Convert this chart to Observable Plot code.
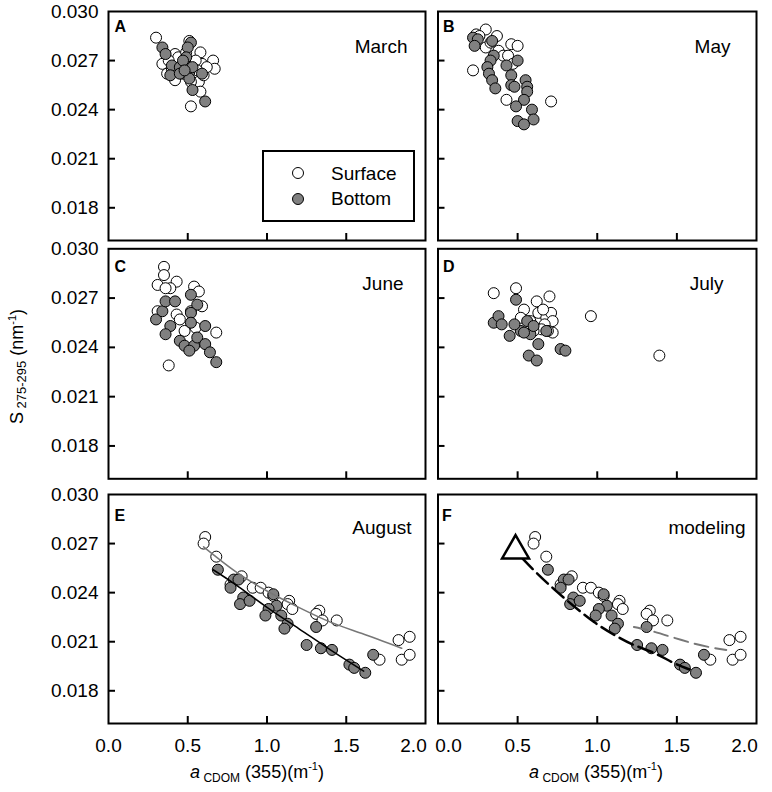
<!DOCTYPE html>
<html><head><meta charset="utf-8">
<script src="https://cdn.jsdelivr.net/npm/d3@7"></script>
<script src="https://cdn.jsdelivr.net/npm/@observablehq/plot@0.6"></script>
<style>
body{margin:0;background:#fff;}
#chart{position:relative;width:772px;height:792px;font-family:"Liberation Sans",Arial,sans-serif;}
.panel{position:absolute;}
#overlay{position:absolute;left:0;top:0;pointer-events:none;}
</style></head><body><div id="chart"></div>
<script>
// ---------- tick values ----------
const xTicks = [0.5, 1.0, 1.5];
const xTickLabels = [0, 0.5, 1.0, 1.5, 2.0];
const yTicks = [0.018, 0.021, 0.024, 0.027];
const yTickLabels = [0.018, 0.021, 0.024, 0.027, 0.030];
const panelLetters = ["A", "B", "C", "D", "E", "F"];
const panelNames = ["March", "May", "June", "July", "August", "modeling"];
const legendLabels = ["Surface", "Bottom"];

// ---------- data: [aCDOM(355), S275-295] ----------
const marchSurface = [[0.30,0.0284],[0.42,0.0274],[0.58,0.0275],[0.66,0.0270],[0.67,0.0265],[0.34,0.0268],[0.59,0.0268],[0.37,0.0262],[0.42,0.0258],[0.57,0.0257],[0.58,0.0251],[0.52,0.0242],[0.51,0.0282],[0.60,0.0261],[0.44,0.0272],[0.55,0.0270],[0.47,0.0262],[0.52,0.0257],[0.38,0.0270],[0.62,0.0266],[0.49,0.0275],[0.40,0.0264],[0.56,0.0264]];
const marchBottom = [[0.34,0.0278],[0.36,0.0274],[0.52,0.0281],[0.50,0.0278],[0.49,0.0272],[0.40,0.0267],[0.45,0.0266],[0.39,0.0261],[0.45,0.0262],[0.51,0.0263],[0.53,0.0266],[0.59,0.0262],[0.51,0.0259],[0.53,0.0252],[0.61,0.0245],[0.47,0.0270],[0.48,0.0264]];

const maySurface = [[0.30,0.0289],[0.24,0.0286],[0.37,0.0285],[0.46,0.0280],[0.50,0.0279],[0.30,0.0278],[0.38,0.0276],[0.22,0.0264],[0.43,0.0246],[0.71,0.0245],[0.41,0.0273],[0.44,0.0273],[0.26,0.0285],[0.33,0.0281],[0.47,0.0268]];
const mayBottom = [[0.22,0.0284],[0.25,0.0283],[0.23,0.0279],[0.34,0.0282],[0.35,0.0273],[0.33,0.0270],[0.31,0.0266],[0.32,0.0262],[0.34,0.0258],[0.36,0.0253],[0.43,0.0267],[0.50,0.0270],[0.46,0.0261],[0.46,0.0255],[0.48,0.0254],[0.55,0.0258],[0.56,0.0254],[0.56,0.0251],[0.54,0.0246],[0.49,0.0242],[0.59,0.0240],[0.60,0.0234],[0.50,0.0233],[0.54,0.0231]];

const juneSurface = [[0.35,0.0289],[0.35,0.0284],[0.31,0.0278],[0.43,0.0280],[0.39,0.0276],[0.36,0.0276],[0.54,0.0277],[0.57,0.0274],[0.59,0.0265],[0.43,0.0260],[0.31,0.0262],[0.45,0.0257],[0.68,0.0249],[0.38,0.0229],[0.48,0.0250],[0.55,0.0252],[0.52,0.0262]];
const juneBottom = [[0.30,0.0257],[0.34,0.0262],[0.36,0.0268],[0.42,0.0268],[0.39,0.0253],[0.36,0.0248],[0.52,0.0272],[0.56,0.0266],[0.52,0.0261],[0.52,0.0255],[0.61,0.0253],[0.45,0.0244],[0.48,0.0241],[0.54,0.0241],[0.56,0.0246],[0.51,0.0238],[0.61,0.0242],[0.64,0.0237],[0.68,0.0231]];

const julySurface = [[0.35,0.0273],[0.49,0.0276],[0.62,0.0268],[0.70,0.0271],[0.54,0.0263],[0.96,0.0259],[1.39,0.0235],[0.63,0.0261],[0.68,0.0258],[0.71,0.0261],[0.72,0.0256],[0.67,0.0254],[0.65,0.0251],[0.72,0.0249],[0.60,0.0250],[0.52,0.0258],[0.58,0.0256],[0.66,0.0263],[0.69,0.0250]];
const julyBottom = [[0.35,0.0255],[0.38,0.0259],[0.40,0.0254],[0.49,0.0269],[0.45,0.0247],[0.52,0.0250],[0.56,0.0256],[0.58,0.0248],[0.63,0.0242],[0.68,0.0250],[0.57,0.0235],[0.62,0.0232],[0.77,0.0239],[0.80,0.0238],[0.48,0.0254],[0.54,0.0249],[0.60,0.0253]];

const augustSurface = [[0.61,0.0274],[0.60,0.0270],[0.68,0.0262],[0.84,0.0250],[0.77,0.0245],[0.91,0.0243],[0.96,0.0243],[1.01,0.0240],[1.04,0.0238],[1.14,0.0235],[1.13,0.0233],[1.16,0.0230],[1.33,0.0229],[1.31,0.0227],[1.35,0.0223],[1.44,0.0223],[1.83,0.0211],[1.90,0.0213],[1.85,0.0199],[1.90,0.0202],[1.71,0.0199]];
const augustBottom = [[0.69,0.0254],[0.79,0.0248],[0.82,0.0248],[0.77,0.0243],[0.85,0.0237],[0.83,0.0233],[0.89,0.0235],[1.04,0.0239],[1.06,0.0232],[1.01,0.0230],[0.99,0.0226],[1.09,0.0226],[1.13,0.0221],[1.11,0.0218],[1.31,0.0219],[1.25,0.0208],[1.34,0.0206],[1.41,0.0205],[1.67,0.0202],[1.52,0.0196],[1.55,0.0194],[1.62,0.0191]];

// fitted curves (panel E)
const augustSurfaceFit = [[0.60,0.0268],[0.80,0.0253],[1.00,0.0241],[1.20,0.0231],[1.40,0.0222],[1.60,0.0215],[1.85,0.0206]];
const augustBottomFit = [[0.66,0.0254],[0.80,0.0245],[1.00,0.0231],[1.20,0.0218],[1.40,0.0205],[1.61,0.0192]];

// modeled curves (panel F)
const modelBottom = [[0.53,0.0261],[0.62,0.0252],[0.73,0.0242],[0.85,0.0232],[0.98,0.0222],[1.11,0.0214],[1.23,0.0208],[1.36,0.0203],[1.48,0.0197],[1.58,0.0193]];
const modelSurface = [[1.23,0.0219],[1.36,0.0216],[1.53,0.0211],[1.69,0.0207],[1.81,0.0205]];
const modelStart = [[0.487,0.02657]];

const GRAY = "#808080";
const FONT = '"Liberation Sans", Arial, sans-serif';
const chart = document.getElementById("chart");

const rows = [
  {top: 0, marginTop: 11, plotH: 229},
  {top: 236, marginTop: 12.3, plotH: 230},
  {top: 482, marginTop: 12, plotH: 229}
];
const cols = [
  {left: 0, marginLeft: 108, marginRight: 2, width: 427},
  {left: 430, marginLeft: 7.5, marginRight: 4, width: 330}
];
const fmtX = d3.format(".1f");

function panel(i, surface, bottom, opts) {
  const col = cols[i % 2], row = rows[Math.floor(i / 2)];
  const isLeft = i % 2 === 0, isBottom = i >= 4;
  const marginBottom = isBottom ? 45 : 4;
  const height = row.marginTop + row.plotH + marginBottom;
  const plotW = col.width - col.marginLeft - col.marginRight;
  const marks = [];
  marks.push(Plot.tickY(yTicks, {y: d => d, stroke: "black", strokeWidth: 2, insetRight: plotW - 7}));
  marks.push(Plot.tickX(xTicks, {x: d => d, stroke: "black", strokeWidth: 2, insetTop: row.plotH - 7}));
  if (isLeft) marks.push(Plot.axisY(yTickLabels, {anchor: "left", tickSize: 0, tickPadding: 10, tickFormat: d3.format(".3f"), fontSize: 19, label: null, fill: "black"}));
  if (isBottom) {
    const lo = xTickLabels[0], hi = xTickLabels[xTickLabels.length - 1];
    const tOpt = {x: d => d, text: d => fmtX(d), frameAnchor: "bottom", lineAnchor: "top", dy: 15, fontSize: 19, fill: "black"};
    marks.push(Plot.text(xTickLabels.filter(d => d !== lo && d !== hi), tOpt));
    marks.push(Plot.text([hi], {...tOpt, dx: -12}));
    marks.push(Plot.text([lo], {...tOpt, dx: isLeft ? 0 : 10.5}));
  }
  marks.push(Plot.dot(surface, {x: d => d[0], y: d => d[1], r: 5.5, fill: "white", stroke: "black", strokeWidth: 1}));
  marks.push(Plot.dot(bottom, {x: d => d[0], y: d => d[1], r: 5.5, fill: GRAY, stroke: "black", strokeWidth: 1}));
  (opts.extra || []).forEach(m => marks.push(m));
  marks.push(Plot.text([panelLetters[i]], {text: d => d, frameAnchor: "top-left", dx: opts.ldx, dy: opts.ldy, lineAnchor: "middle", textAnchor: "start", fontWeight: "bold", fontSize: 16, fill: "black"}));
  marks.push(Plot.text([panelNames[i]], {text: d => d, frameAnchor: "top-right", dx: -opts.mdx, dy: opts.mdy, lineAnchor: "middle", textAnchor: "end", fontSize: 19, fill: "black"}));
  marks.push(Plot.frame({stroke: "black", strokeWidth: 2}));
  const svg = Plot.plot({
    width: col.width, height,
    marginLeft: col.marginLeft, marginRight: col.marginRight,
    marginTop: row.marginTop, marginBottom,
    x: {domain: [0, 2], axis: null},
    y: {domain: [0.016, 0.030], axis: null},
    style: {background: "none", overflow: "visible", fontFamily: FONT, fontSize: "19px", color: "black"},
    marks
  });
  svg.classList.add("panel");
  svg.style.left = col.left + "px";
  svg.style.top = row.top + "px";
  chart.appendChild(svg);
}

panel(0, marchSurface, marchBottom, {ldx: 6, ldy: 15, mdx: 18, mdy: 35});
panel(1, maySurface, mayBottom, {ldx: 5, ldy: 15, mdx: 26, mdy: 35});
panel(2, juneSurface, juneBottom, {ldx: 6, ldy: 18, mdx: 22, mdy: 35});
panel(3, julySurface, julyBottom, {ldx: 5, ldy: 18, mdx: 33, mdy: 35.5});
panel(4, augustSurface, augustBottom, {ldx: 6, ldy: 21, mdx: 14, mdy: 33, extra: [
  Plot.line(augustSurfaceFit, {x: d => d[0], y: d => d[1], curve: "natural", stroke: "#777", strokeWidth: 1.5}),
  Plot.line(augustBottomFit, {x: d => d[0], y: d => d[1], curve: "natural", stroke: "black", strokeWidth: 1.5})
]});
panel(5, augustSurface, augustBottom, {ldx: 4, ldy: 21, mdx: 11, mdy: 33, extra: [
  Plot.line(modelSurface, {x: d => d[0], y: d => d[1], curve: "natural", stroke: "#777", strokeWidth: 2, strokeDasharray: "14,7"}),
  Plot.line(modelBottom, {x: d => d[0], y: d => d[1], curve: "natural", stroke: "black", strokeWidth: 2.5, strokeDasharray: "15,6"}),
  Plot.dot(modelStart, {x: d => d[0], y: d => d[1], symbol: "triangle", r: 10, fill: "white", stroke: "black", strokeWidth: 2.5})
]});

// ---------- overlay: axis titles and legend ----------
const NS = "http://www.w3.org/2000/svg";
const ov = document.createElementNS(NS, "svg");
ov.setAttribute("id", "overlay");
ov.setAttribute("width", 772); ov.setAttribute("height", 792);
ov.setAttribute("font-family", FONT);
ov.innerHTML = `
  <text transform="translate(23,366.5) rotate(-90)" text-anchor="middle" font-size="18" fill="black">S<tspan font-size="13" dy="3"> 275-295</tspan><tspan dy="-3"> (nm</tspan><tspan font-size="11" dy="-7">-1</tspan><tspan dy="7">)</tspan></text>
  ${[257, 596].map(cx => `<text x="${cx}" y="778" text-anchor="middle" font-size="18" fill="black"><tspan font-style="italic">a</tspan><tspan font-size="12" dy="4"> CDOM</tspan><tspan dy="-4"> (355)(m</tspan><tspan font-size="11" dy="-8">-1</tspan><tspan dy="8">)</tspan></text>`).join("")}
  <rect x="263" y="151" width="151" height="70" fill="white" stroke="black" stroke-width="2"/>
  <circle cx="298" cy="173" r="5.5" fill="white" stroke="black" stroke-width="1"/>
  <circle cx="298" cy="199" r="5.5" fill="${GRAY}" stroke="black" stroke-width="1"/>
  <text x="331" y="180" font-size="19" fill="black">${legendLabels[0]}</text>
  <text x="331" y="205" font-size="19" fill="black">${legendLabels[1]}</text>
`;
chart.appendChild(ov);
</script></body></html>
